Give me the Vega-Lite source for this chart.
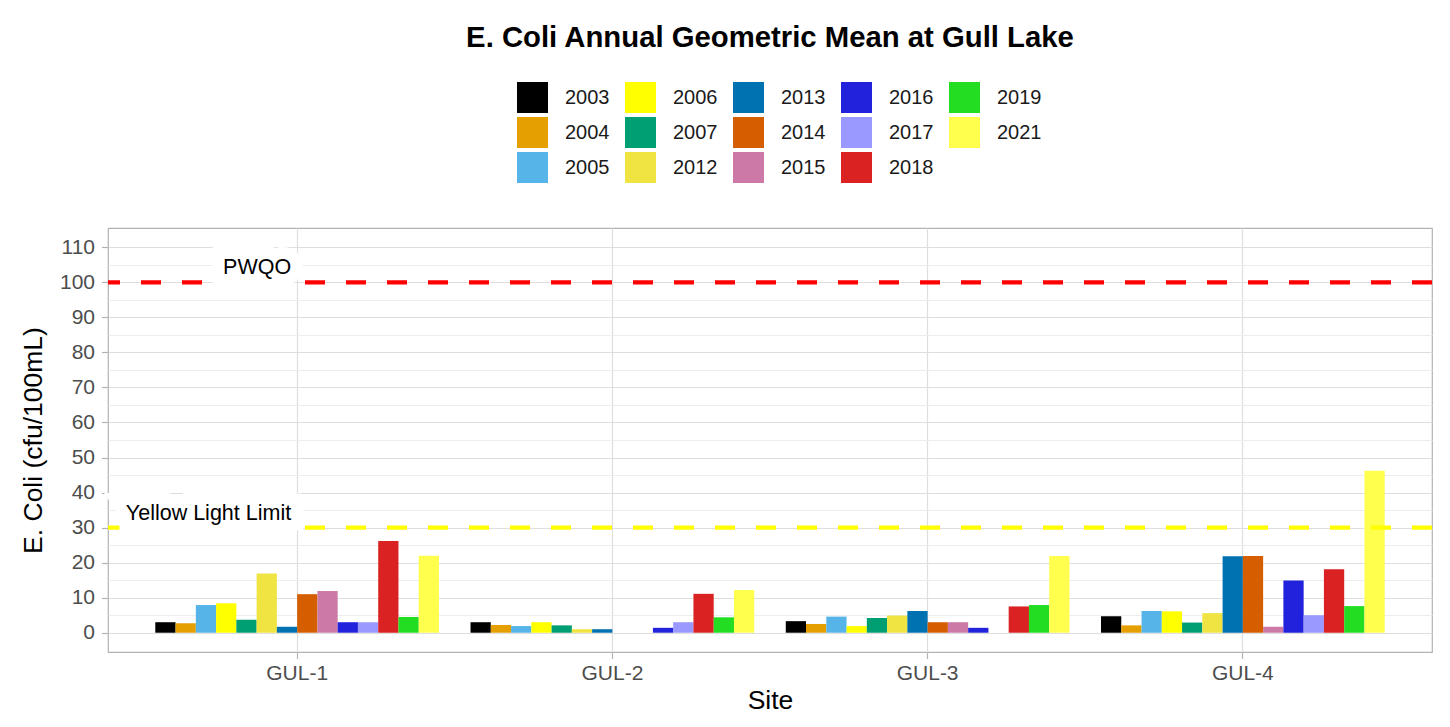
{
  "$schema": "https://vega.github.io/schema/vega-lite/v6.json",
  "width": 1324,
  "height": 424,
  "autosize": {"type": "none"},
  "padding": {"left": 108, "top": 228, "right": 18, "bottom": 75},
  "background": "white",
  "title": {
    "text": "E. Coli Annual Geometric Mean at Gull Lake",
    "font": "Liberation Sans",
    "fontSize": 29.3,
    "fontWeight": "bold",
    "color": "black",
    "anchor": "middle",
    "frame": "group",
    "baseline": "alphabetic",
    "offset": 6
  },
  "config": {
    "font": "Liberation Sans",
    "view": {"stroke": "#B3B3B3", "strokeWidth": 1.2},
    "axis": {
      "labelFont": "Liberation Sans",
      "titleFont": "Liberation Sans",
      "labelFontSize": 21,
      "labelColor": "#4D4D4D",
      "tickColor": "#B3B3B3",
      "tickWidth": 1.2,
      "tickSize": 6.5,
      "gridColor": "#DEDEDE",
      "gridWidth": 1.2,
      "domain": false,
      "titleFontSize": 26.5,
      "titleFontWeight": "normal",
      "titleColor": "black"
    },
    "legend": {
      "labelFont": "Liberation Sans"
    }
  },
  "layer": [
    {
      "data": {
        "values": [
          {"site": "GUL-1", "year": "2003", "value": 3.0},
          {"site": "GUL-1", "year": "2004", "value": 2.7},
          {"site": "GUL-1", "year": "2005", "value": 7.9},
          {"site": "GUL-1", "year": "2006", "value": 8.4},
          {"site": "GUL-1", "year": "2007", "value": 3.7},
          {"site": "GUL-1", "year": "2012", "value": 16.9},
          {"site": "GUL-1", "year": "2013", "value": 1.7},
          {"site": "GUL-1", "year": "2014", "value": 11.0},
          {"site": "GUL-1", "year": "2015", "value": 11.9},
          {"site": "GUL-1", "year": "2016", "value": 3.0},
          {"site": "GUL-1", "year": "2017", "value": 3.0},
          {"site": "GUL-1", "year": "2018", "value": 26.2},
          {"site": "GUL-1", "year": "2019", "value": 4.5},
          {"site": "GUL-1", "year": "2021", "value": 22.0},
          {"site": "GUL-2", "year": "2003", "value": 3.0},
          {"site": "GUL-2", "year": "2004", "value": 2.2},
          {"site": "GUL-2", "year": "2005", "value": 1.9},
          {"site": "GUL-2", "year": "2006", "value": 3.0},
          {"site": "GUL-2", "year": "2007", "value": 2.1},
          {"site": "GUL-2", "year": "2012", "value": 1.0},
          {"site": "GUL-2", "year": "2013", "value": 1.0},
          {"site": "GUL-2", "year": "2016", "value": 1.4},
          {"site": "GUL-2", "year": "2017", "value": 3.0},
          {"site": "GUL-2", "year": "2018", "value": 11.1},
          {"site": "GUL-2", "year": "2019", "value": 4.4},
          {"site": "GUL-2", "year": "2021", "value": 12.2},
          {"site": "GUL-3", "year": "2003", "value": 3.3},
          {"site": "GUL-3", "year": "2004", "value": 2.5},
          {"site": "GUL-3", "year": "2005", "value": 4.6},
          {"site": "GUL-3", "year": "2006", "value": 1.9},
          {"site": "GUL-3", "year": "2007", "value": 4.2},
          {"site": "GUL-3", "year": "2012", "value": 4.9},
          {"site": "GUL-3", "year": "2013", "value": 6.2},
          {"site": "GUL-3", "year": "2014", "value": 3.0},
          {"site": "GUL-3", "year": "2015", "value": 3.0},
          {"site": "GUL-3", "year": "2016", "value": 1.4},
          {"site": "GUL-3", "year": "2018", "value": 7.5},
          {"site": "GUL-3", "year": "2019", "value": 7.9},
          {"site": "GUL-3", "year": "2021", "value": 21.9},
          {"site": "GUL-4", "year": "2003", "value": 4.7},
          {"site": "GUL-4", "year": "2004", "value": 2.1},
          {"site": "GUL-4", "year": "2005", "value": 6.2},
          {"site": "GUL-4", "year": "2006", "value": 6.1},
          {"site": "GUL-4", "year": "2007", "value": 2.9},
          {"site": "GUL-4", "year": "2012", "value": 5.6},
          {"site": "GUL-4", "year": "2013", "value": 21.8},
          {"site": "GUL-4", "year": "2014", "value": 21.9},
          {"site": "GUL-4", "year": "2015", "value": 1.7},
          {"site": "GUL-4", "year": "2016", "value": 14.9},
          {"site": "GUL-4", "year": "2017", "value": 5.0},
          {"site": "GUL-4", "year": "2018", "value": 18.1},
          {"site": "GUL-4", "year": "2019", "value": 7.6},
          {"site": "GUL-4", "year": "2021", "value": 46.2}
        ]
      },
      "mark": {"type": "bar"},
      "encoding": {
        "x": {
          "field": "site",
          "type": "nominal",
          "scale": {"paddingInner": 0.1, "paddingOuter": 0.15},
          "axis": {
            "title": "Site",
            "labelAngle": 0,
            "bandPosition": 0.5,
            "grid": true,
            "labelPadding": 4,
            "titlePadding": 4
          }
        },
        "xOffset": {
          "field": "year",
          "type": "nominal",
          "scale": {
            "domain": ["2003", "2004", "2005", "2006", "2007", "2012", "2013", "2014", "2015", "2016", "2017", "2018", "2019", "2021"],
            "paddingInner": 0,
            "paddingOuter": 0
          }
        },
        "y": {
          "field": "value",
          "type": "quantitative",
          "scale": {"domain": [-5.5, 115.5], "nice": false, "zero": false},
          "axis": {
            "title": "E. Coli (cfu/100mL)",
            "values": [0, 10, 20, 30, 40, 50, 60, 70, 80, 90, 100, 110],
            "labelPadding": 7,
            "titlePadding": 12,
            "grid": true
          }
        },
        "color": {
          "field": "year",
          "type": "nominal",
          "scale": {
            "domain": ["2003", "2004", "2005", "2006", "2007", "2012", "2013", "2014", "2015", "2016", "2017", "2018", "2019", "2021"],
            "range": ["#000000", "#E69F00", "#56B4E9", "#FFFF00", "#009E73", "#F0E442", "#0072B2", "#D55E00", "#CC79A7", "#2222DD", "#9999FF", "#DA2222", "#22DD22", "#FFFF4D"]
          },
          "legend": {
            "title": null,
            "orient": "none",
            "legendX": 409,
            "legendY": -146,
            "columns": 5,
            "symbolType": "square",
            "symbolSize": 961,
            "symbolStrokeWidth": 0,
            "symbolOpacity": 1,
            "labelFontSize": 20,
            "labelColor": "#1A1A1A",
            "labelOffset": 17,
            "columnPadding": 15,
            "rowPadding": 4,
            "padding": 0
          }
        }
      }
    },
    {
      "data": {"values": [{"v": 100}]},
      "mark": {"type": "rule", "color": "#FF0000", "strokeWidth": 4.3, "strokeDash": [20, 21]},
      "encoding": {
        "y": {
          "field": "v",
          "type": "quantitative",
          "scale": {"domain": [-5.5, 115.5], "nice": false, "zero": false},
          "axis": {
            "orient": "right",
            "title": null,
            "values": [5, 15, 25, 35, 45, 55, 65, 75, 85, 95, 105],
            "labels": false,
            "ticks": false,
            "domain": false,
            "grid": true,
            "gridColor": "#EDEDED",
            "gridWidth": 1
          }
        }
      }
    },
    {
      "data": {"values": [{"v": 30}]},
      "mark": {"type": "rule", "color": "#FFFF00", "strokeWidth": 4.3, "strokeDash": [20, 21]},
      "encoding": {
        "y": {"field": "v", "type": "quantitative", "axis": null}
      }
    },
    {
      "data": {
        "values": [
          {"site": "GUL-1", "y": 104, "label": "PWQO"},
          {"site": "GUL-1", "y": 34, "label": "Yellow Light Limit"}
        ]
      },
      "mark": {
        "type": "text",
        "align": "right",
        "baseline": "middle",
        "dx": -6,
        "fontSize": 21.5,
        "font": "Liberation Sans",
        "color": "white",
        "stroke": "white",
        "strokeWidth": 24,
        "strokeJoin": "miter"
      },
      "encoding": {
        "x": {"field": "site", "type": "nominal"},
        "y": {"field": "y", "type": "quantitative", "axis": null},
        "text": {"field": "label"}
      }
    },
    {
      "data": {
        "values": [
          {"site": "GUL-1", "y": 104, "label": "PWQO"},
          {"site": "GUL-1", "y": 34, "label": "Yellow Light Limit"}
        ]
      },
      "mark": {
        "type": "text",
        "align": "right",
        "baseline": "middle",
        "dx": -6,
        "fontSize": 21.5,
        "font": "Liberation Sans",
        "color": "black"
      },
      "encoding": {
        "x": {"field": "site", "type": "nominal"},
        "y": {"field": "y", "type": "quantitative", "axis": null},
        "text": {"field": "label"}
      }
    }
  ],
  "resolve": {"axis": {"y": "independent"}}
}
